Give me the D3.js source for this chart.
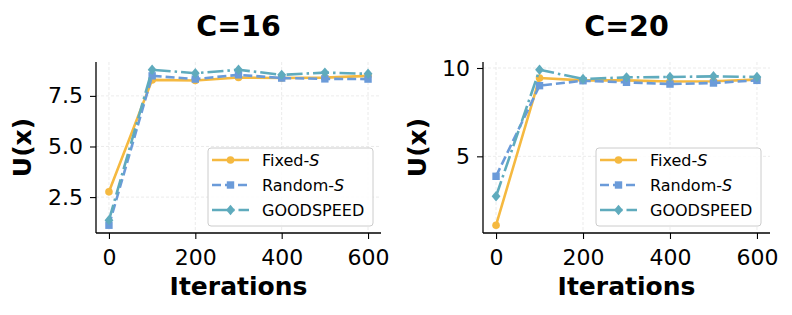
<!DOCTYPE html>
<html><head><meta charset="utf-8">
<script src="https://cdn.jsdelivr.net/npm/d3@7"></script>
<style>body{margin:0;background:#fff}svg{display:block}</style>
</head><body><svg id="c" width="792" height="315"></svg>
<script>
const iterations = [0, 100, 200, 300, 400, 500, 600];
const seriesNames = ["Fixed-S", "Random-S", "GOODSPEED"];
const c16Fixed = [2.76, 8.29, 8.26, 8.41, 8.38, 8.40, 8.49];
const c16Random = [1.11, 8.49, 8.33, 8.54, 8.38, 8.34, 8.33];
const c16Good = [1.36, 8.79, 8.62, 8.79, 8.54, 8.65, 8.59];
const c20Fixed = [1.10, 9.43, 9.30, 9.30, 9.24, 9.25, 9.34];
const c20Random = [3.87, 9.00, 9.28, 9.19, 9.09, 9.15, 9.30];
const c20Good = [2.74, 9.90, 9.38, 9.47, 9.49, 9.53, 9.49];
const xTicks = [0, 200, 400, 600];
const c16YTicks = [2.5, 5.0, 7.5];
const c20YTicks = [5, 10];

const colors = ["#F5B940", "#6B9BD9", "#5FABBD"];
const dashes = [null, "9,4", "16,4,2.5,4"];
const markers = ["circle", "square", "diamond"];

const panels = [
  {title: "C=16", data: [c16Fixed, c16Random, c16Good], yTicks: c16YTicks, fmt: d3.format(".1f"),
   box: {l: 96, r: 381, t: 62, b: 233}, ylabX: 31, legend: {x: 208, y: 148, w: 165, h: 78}},
  {title: "C=20", data: [c20Fixed, c20Random, c20Good], yTicks: c20YTicks, fmt: d3.format("d"),
   box: {l: 483, r: 770, t: 62, b: 233}, ylabX: 426, legend: {x: 596, y: 148, w: 165, h: 78}}
];

const svg = d3.select("#c");
const FONT = "'DejaVu Sans', sans-serif";

function drawMarker(g, type, x, y, color) {
  if (type === "circle") g.append("circle").attr("cx", x).attr("cy", y).attr("r", 3.8).attr("fill", color);
  else if (type === "square") g.append("rect").attr("x", x - 3.7).attr("y", y - 3.7).attr("width", 7.4).attr("height", 7.4).attr("fill", color);
  else g.append("path").attr("d", `M${x},${y-5.2}L${x+4.4},${y}L${x},${y+5.2}L${x-4.4},${y}Z`).attr("fill", color);
}

panels.forEach(p => {
  const all = p.data.flat();
  const mn = d3.min(all), mx = d3.max(all), m = (mx - mn) * 0.05;
  const x = d3.scaleLinear().domain([-30, 630]).range([p.box.l, p.box.r]);
  const y = d3.scaleLinear().domain([mn - m, mx + m]).range([p.box.b, p.box.t]);
  const g = svg.append("g");

  // grid
  g.selectAll(".gx").data(xTicks).join("line")
    .attr("x1", d => x(d)).attr("x2", d => x(d)).attr("y1", p.box.t).attr("y2", p.box.b)
    .attr("stroke", "#e6e6e6").attr("stroke-width", 0.8).attr("stroke-dasharray", "3,2");
  g.selectAll(".gy").data(p.yTicks).join("line")
    .attr("x1", p.box.l).attr("x2", p.box.r).attr("y1", d => y(d)).attr("y2", d => y(d))
    .attr("stroke", "#e6e6e6").attr("stroke-width", 0.8).attr("stroke-dasharray", "3,2");

  // lines
  p.data.forEach((vals, i) => {
    const pts = iterations.map((it, j) => [x(it), y(vals[j])]);
    g.append("path").attr("d", d3.line()(pts)).attr("fill", "none")
      .attr("stroke", colors[i]).attr("stroke-width", 2.6)
      .attr("stroke-dasharray", dashes[i]).attr("stroke-linejoin", "round");
    pts.forEach(pt => drawMarker(g, markers[i], pt[0], pt[1], colors[i]));
  });

  // axes
  const xa = g.append("g").attr("transform", `translate(0,${p.box.b})`)
    .call(d3.axisBottom(x).tickValues(xTicks).tickSize(6).tickPadding(5));
  xa.select(".domain").attr("d", `M${p.box.l},0H${p.box.r}`).attr("stroke", "#000").attr("stroke-width", 1.3);
  const ya = g.append("g").attr("transform", `translate(${p.box.l},0)`)
    .call(d3.axisLeft(y).tickValues(p.yTicks).tickFormat(p.fmt).tickSize(6).tickPadding(7));
  ya.select(".domain").attr("d", `M0,${p.box.t}V${p.box.b}`).attr("stroke", "#000").attr("stroke-width", 1.3);
  [xa, ya].forEach(a => {
    a.selectAll("text").attr("font-family", FONT).attr("font-size", 22).attr("fill", "#000");
    a.selectAll(".tick line").attr("stroke", "#000").attr("stroke-width", 1.1);
  });
  xa.selectAll("text").attr("y", 32).attr("dy", 0);

  // labels
  const cx = (p.box.l + p.box.r) / 2;
  svg.append("text").attr("x", cx).attr("y", 36).attr("text-anchor", "middle")
    .attr("font-family", FONT).attr("font-weight", "bold").attr("font-size", 28.5).text(p.title);
  svg.append("text").attr("x", cx).attr("y", 295).attr("text-anchor", "middle")
    .attr("font-family", FONT).attr("font-weight", "bold").attr("font-size", 25).text("Iterations");
  const yly = (p.box.t + p.box.b) / 2;
  svg.append("text").attr("transform", `translate(${p.ylabX},${yly}) rotate(-90)`).attr("text-anchor", "middle")
    .attr("font-family", FONT).attr("font-weight", "bold").attr("font-size", 25).text("U(x)");

  // legend
  const L = p.legend;
  const lg = svg.append("g");
  lg.append("rect").attr("x", L.x).attr("y", L.y).attr("width", L.w).attr("height", L.h).attr("rx", 3)
    .attr("fill", "#fff").attr("fill-opacity", 0.85).attr("stroke", "#cccccc").attr("stroke-width", 1);
  seriesNames.forEach((name, i) => {
    const yy = L.y + 12 + i * 25;
    lg.append("line").attr("x1", L.x + 4).attr("x2", L.x + 41).attr("y1", yy).attr("y2", yy)
      .attr("stroke", colors[i]).attr("stroke-width", 2.6).attr("stroke-dasharray", dashes[i]);
    drawMarker(lg, markers[i], L.x + 22.5, yy, colors[i]);
    const t = lg.append("text").attr("x", L.x + 54).attr("y", yy + 5.8)
      .attr("font-family", FONT).attr("font-size", 16).attr("fill", "#000");
    if (name.endsWith("-S")) {
      t.append("tspan").text(name.slice(0, -1));
      t.append("tspan").attr("font-style", "italic").text("S");
    } else t.text(name);
  });
});
</script></body></html>
